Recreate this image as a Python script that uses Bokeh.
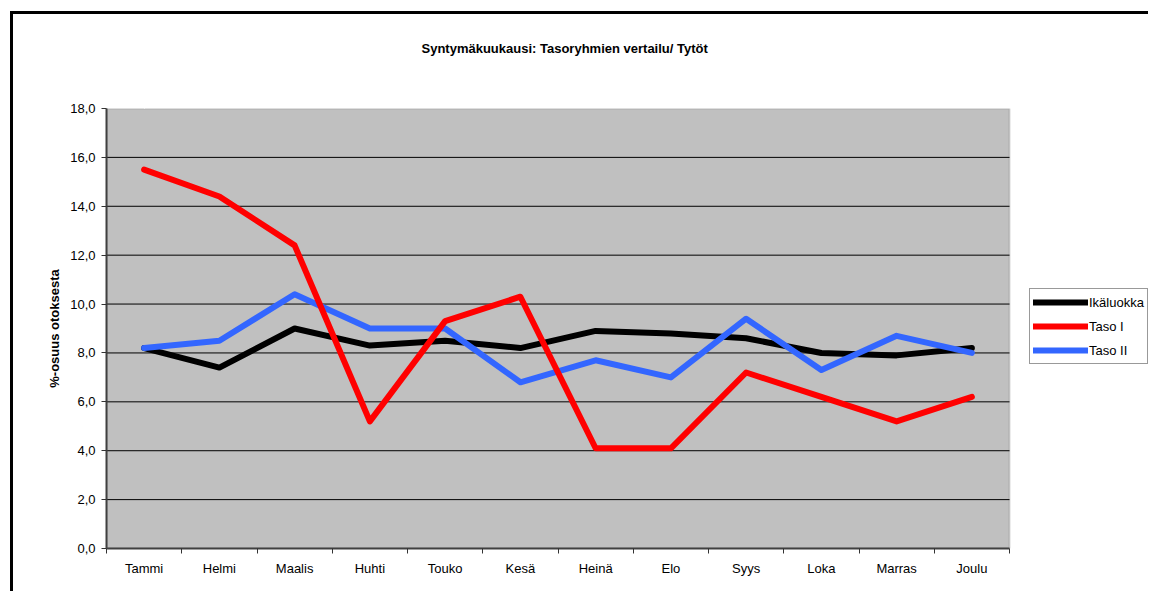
from bokeh.plotting import figure
from bokeh.models import (Range1d, FixedTicker, CustomJSTickFormatter, Legend, LegendItem, Title,
                          BoxAnnotation, LinearAxis)
from bokeh.embed import file_html
from bokeh.resources import INLINE

months = ["Tammi", "Helmi", "Maalis", "Huhti", "Touko", "Kesä", "Heinä", "Elo", "Syys", "Loka", "Marras", "Joulu"]
ikaluokka = [8.2, 7.4, 9.0, 8.3, 8.5, 8.2, 8.9, 8.8, 8.6, 8.0, 7.9, 8.2]
taso_1 = [15.5, 14.4, 12.4, 5.2, 9.3, 10.3, 4.1, 4.1, 7.2, 6.2, 5.2, 6.2]
taso_2 = [8.2, 8.5, 10.4, 9.0, 9.0, 6.8, 7.7, 7.0, 9.4, 7.3, 8.7, 8.0]
y_ticks = [0, 2, 4, 6, 8, 10, 12, 14, 16, 18]
title_text = "Syntymäkuukausi: Tasoryhmien vertailu/ Tytöt"
y_label = "%-osuus otoksesta"

FONT = "Liberation Sans"
n = len(months)
xs = [i + 0.5 for i in range(n)]
y_max = y_ticks[-1]

W, H = 1138, 580
LEFT, TOP, BOTTOM = 93, 94, 46
PLOT_W = 903  # width of the grey plot area in pixels
frame_w = W - LEFT
x_end = n * frame_w / PLOT_W   # extra room on the right holds the legend

p = figure(width=W, height=H, output_backend="svg", toolbar_location=None,
           x_range=Range1d(0, x_end), y_range=Range1d(0, y_max),
           min_border_left=LEFT, min_border_right=0, min_border_top=TOP, min_border_bottom=BOTTOM)

p.background_fill_color = "white"
p.border_fill_color = "white"
p.outline_line_color = None

plot_area = BoxAnnotation(left=0, right=n, bottom=0, top=y_max,
                          fill_color="#C0C0C0", fill_alpha=1,
                          line_color="#808080", line_width=2, level="underlay")
p.add_layout(plot_area)

# invisible spacer between the plot and the title (one white tick, empty label)
spacer = LinearAxis(ticker=FixedTicker(ticks=[xs[0]], minor_ticks=[]),
                    formatter=CustomJSTickFormatter(code="return '';"),
                    major_tick_out=48, major_tick_in=0,
                    major_tick_line_color="white", minor_tick_line_color=None,
                    axis_line_color=None, major_label_standoff=0,
                    major_label_text_font_size="1px")
p.add_layout(spacer, "above")

t = Title(text=title_text, align="left", offset=315, standoff=10,
          text_font=FONT, text_font_size="13px", text_font_style="bold", text_color="black")
p.add_layout(t, "above")

# x axis
xa = p.below[0]
xa.bounds = (0, n)
xa.ticker = FixedTicker(ticks=xs, minor_ticks=list(range(n + 1)))
xa.formatter = CustomJSTickFormatter(args=dict(labels=months),
                                     code="return labels[Math.floor(tick)] || '';")
xa.major_tick_line_color = None
xa.major_tick_out = 5
xa.major_tick_in = 0
xa.minor_tick_out = 5
xa.minor_tick_in = 0
xa.minor_tick_line_color = "#333333"
xa.axis_line_color = "#404040"
xa.axis_line_width = 2
xa.major_label_standoff = 7
xa.major_label_text_font = FONT
xa.major_label_text_font_size = "13px"
xa.major_label_text_color = "black"

# y axis
p.yaxis.ticker = FixedTicker(ticks=y_ticks)
p.yaxis.formatter = CustomJSTickFormatter(code="return tick.toFixed(1).replace('.', ',');")
p.yaxis.major_tick_out = 5
p.yaxis.major_tick_in = 0
p.yaxis.minor_tick_line_color = None
p.yaxis.major_tick_line_color = "#333333"
p.yaxis.axis_line_color = "#404040"
p.yaxis.axis_line_width = 2
p.yaxis.major_label_standoff = 6
p.yaxis.major_label_text_font = FONT
p.yaxis.major_label_text_font_size = "13px"
p.yaxis.major_label_text_color = "black"
p.yaxis.axis_label = y_label
p.yaxis.axis_label_text_font = FONT
p.yaxis.axis_label_text_font_size = "13px"
p.yaxis.axis_label_text_font_style = "bold"
p.yaxis.axis_label_text_color = "black"
p.yaxis.axis_label_standoff = 5

p.xgrid.grid_line_color = None
p.ygrid.grid_line_color = None

# horizontal grid lines limited to the grey plot area
inner = y_ticks[1:-1]
p.segment(x0=[0] * len(inner), x1=[n] * len(inner), y0=inner, y1=inner,
          line_color="black", line_width=1)

lw = 6
r_ika = p.line(xs, ikaluokka, line_color="#000000", line_width=lw, line_join="round", line_cap="round")
r_t2 = p.line(xs, taso_2, line_color="#3366FF", line_width=lw, line_join="round", line_cap="round")
r_t1 = p.line(xs, taso_1, line_color="#FF0000", line_width=lw, line_join="round", line_cap="round")

legend = Legend(items=[LegendItem(label="Ikäluokka", renderers=[r_ika]),
                       LegendItem(label="Taso I", renderers=[r_t1]),
                       LegendItem(label="Taso II", renderers=[r_t2])],
                location=(923, 184))
legend.label_text_font = FONT
legend.label_text_font_size = "13px"
legend.label_text_color = "black"
legend.glyph_width = 55
legend.glyph_height = 20
legend.label_standoff = 1
legend.label_height = 20
legend.padding = 3
legend.spacing = 4
legend.margin = 0
legend.border_line_color = "#333333"
legend.border_line_width = 1
legend.background_fill_color = "white"
legend.background_fill_alpha = 1
p.add_layout(legend, "center")

p.styles = {"margin-left": "13px", "margin-top": "14px",
            "box-shadow": "-3px -3px 0px 0px black"}

open("out.html", "w").write(file_html(p, INLINE))
